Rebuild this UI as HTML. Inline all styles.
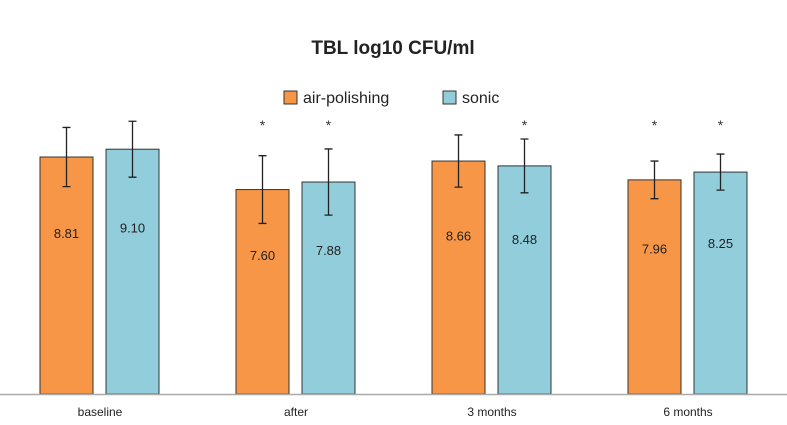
<!DOCTYPE html>
<html><head><meta charset="utf-8"><style>
body{margin:0;background:#fff;width:787px;height:420px;overflow:hidden;font-family:"Liberation Sans",sans-serif}
</style></head><body>
<svg id="chart" width="787" height="420" xmlns="http://www.w3.org/2000/svg">
<text x="393" y="54" text-anchor="middle" font-size="19" font-weight="bold" fill="#222">TBL log10 CFU/ml</text>
<g>
<rect x="284" y="91" width="13" height="13" fill="#f79646" stroke="#333" stroke-width="1"/>
<text x="303" y="103" font-size="16" fill="#222">air-polishing</text>
<rect x="443" y="91" width="13" height="13" fill="#92cddc" stroke="#333" stroke-width="1"/>
<text x="462" y="103" font-size="16" fill="#222">sonic</text>
</g>
<g id="marks"></g>
<line x1="0" y1="394.5" x2="787" y2="394.5" stroke="#aaa" stroke-width="1.5"/>
</svg>
<script>
const categories=["baseline","after","3 months","6 months"];
const airValues=[8.81,7.60,8.66,7.96];
const sonicValues=[9.10,7.88,8.48,8.25];
const airErrors=[1.1,1.26,0.97,0.7];
const sonicErrors=[1.04,1.23,1.0,0.67];
const airSig=[false,true,false,true];
const sonicSig=[false,true,true,true];
const baseY=394,pxPerUnit=26.9,groupW=196,barW=53;
const y=v=>baseY-v*pxPerUnit;
const g=document.getElementById('marks');
const NS="http://www.w3.org/2000/svg";
function mk(tag,attrs){const e=document.createElementNS(NS,tag);for(const k in attrs)e.setAttribute(k,attrs[k]);g.appendChild(e);return e;}
categories.forEach((c,i)=>{
  const cx=i*groupW+100;
  [[airValues,airErrors,airSig,"#f79646",cx-60,"air"],[sonicValues,sonicErrors,sonicSig,"#92cddc",cx+6,"sonic"]].forEach(([vals,errs,sig,col,x,name])=>{
    const v=vals[i],top=y(v);
    const r=mk('rect',{x:x,y:top,width:barW,height:baseY-top,fill:col,stroke:"#333","stroke-width":1});
    
    
    const mx=x+barW/2,e=errs[i]*pxPerUnit;
    const eb=mk('path',{d:`M${mx},${top-e}V${top+e}M${mx-4},${top-e}H${mx+4}M${mx-4},${top+e}H${mx+4}`,stroke:"#222","stroke-width":1.3,fill:"none"});
    
    
    const t=mk('text',{x:mx,y:top+(baseY-top)*0.32+5,"text-anchor":"middle","font-size":13,fill:"#222"});
    t.textContent=v.toFixed(2);
    
    
    if(sig[i]){const s=mk('text',{x:mx,y:130,"text-anchor":"middle","font-size":14,fill:"#333"});s.textContent="*";
      
      }
  });
  const l=mk('text',{x:cx,y:416,"text-anchor":"middle","font-size":12,fill:"#222"});
  l.textContent=c;
  
  
});
</script>
</body></html>
